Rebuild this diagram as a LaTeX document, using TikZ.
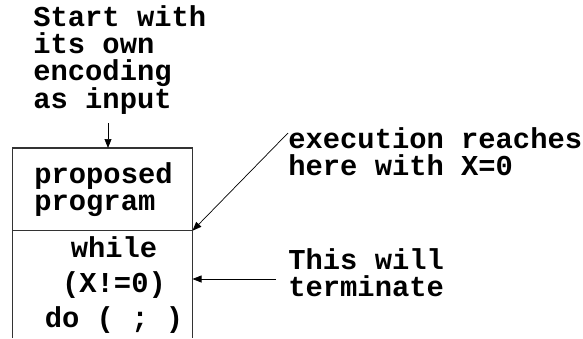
\documentclass[tikz,border=0pt]{standalone}
\usepackage{fontspec}
\setmonofont{Liberation Mono}
\usetikzlibrary{arrows.meta, positioning, calc}
\tikzset{
  every picture/.style={x=1pt, y=-1pt, line width=0.7pt},
  txt/.style={font=\ttfamily\bfseries\fontsize{28.8}{26.8}\selectfont, inner sep=0pt, align=left, anchor=base west},
  code/.style={font=\ttfamily\bfseries\fontsize{28.8}{35}\selectfont, inner sep=0pt, align=center, anchor=base},
  arrow/.style={-{Triangle[length=9pt, width=7pt]}, line width=0.7pt},
  wall/.style={draw=black!80, line width=1.1pt},
}
\begin{document}
\begin{tikzpicture}
  \useasboundingbox (0, 0) rectangle (583, 338);
  % program box, open at the bottom
  \coordinate (tl) at (12.7, 148);
  \coordinate (tr) at (192.5, 148);
  \coordinate (ml) at (12.7, 230.7);
  \coordinate (mr) at (192.5, 230.7);
  \draw[wall] (12.7, 338) -- (tl) -- (tr) -- (192.5, 338);
  \draw[wall] (ml) -- (mr);
  % multi-line nodes sit on the baseline of their last line
  \node[txt] (prog) at (34, 210) {proposed\\program};
  \node[code] (loop) at (114, 327) {while\\(X!=0)\\do ( ; )};
  % labels round the box
  \node[txt] (start) at (33, 108.4) {Start with\\its own\\encoding\\as input};
  \node[txt] (exec) at (288, 175) {execution reaches\\here with X=0};
  \node[txt] (term) at (288, 296) {This will\\terminate};
  \coordinate (in) at (108, 123);
  \coordinate (entry) at (108, 148);
  \coordinate (from) at (288, 133);
  \coordinate (back) at (276, 279);
  \coordinate (side) at (192.5, 279);
  \draw[arrow] (in) -- (entry);
  \draw[arrow] (from) -- (mr);
  \draw[arrow] (back) -- (side);
\end{tikzpicture}
\end{document}
